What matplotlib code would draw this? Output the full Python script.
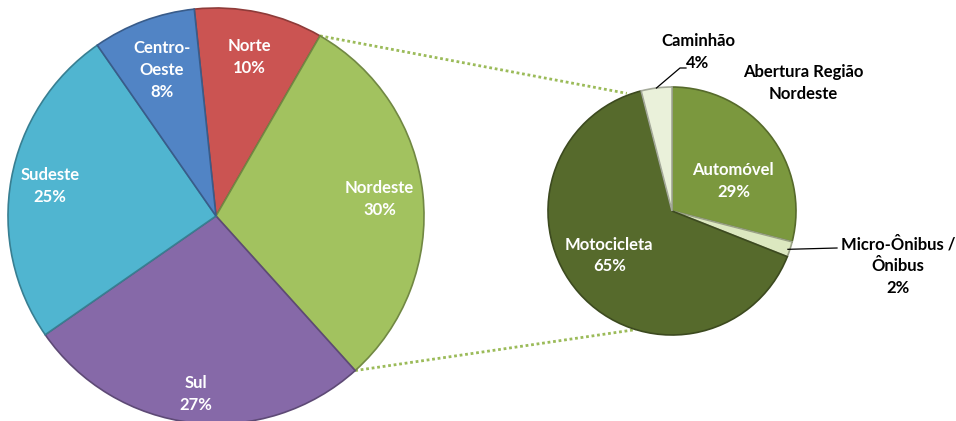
import numpy as np
import matplotlib
matplotlib.use("Agg")
import matplotlib.pyplot as plt

# ---- data ----
regions = ["Norte", "Nordeste", "Sul", "Sudeste", "Centro-\nOeste"]
region_pct = [10, 30, 27, 25, 8]
vehicles = ["Automóvel", "Micro-Ônibus /\nÔnibus", "Motocicleta", "Caminhão"]
vehicle_pct = [29, 2, 65, 4]
detail_title = "Abertura Região\nNordeste"

# ---- styles ----
region_colors = ["#CB5452", "#A2C25F", "#8669A8", "#50B5D0", "#5184C5"]
vehicle_colors = ["#7B983E", "#DCE8C0", "#566A2C", "#EAF1DA"]
FONT = ["Lato", "DejaVu Sans"]
FS = 12
LS = 1.45
W, H = 956, 421

fig = plt.figure(figsize=(W / 100, H / 100), dpi=100)
ax = fig.add_axes([0, 0, 1, 1])

def darker(c, f=0.75):
    r, g, b = matplotlib.colors.to_rgb(c)
    return (r * f, g * f, b * f)

# left pie
c1 = (216, H - 216)
R1 = 208
w1, _ = ax.pie(region_pct, colors=region_colors, startangle=96, counterclock=False,
               center=c1, radius=R1, frame=True,
               wedgeprops=dict(linewidth=1.2))
for w, col in zip(w1, region_colors):
    w.set_edgecolor(darker(col, 0.7))

# right pie
c2 = (672, H - 211)
R2 = 124
w2, _ = ax.pie(vehicle_pct, colors=vehicle_colors, startangle=90, counterclock=False,
               center=c2, radius=R2, frame=True,
               wedgeprops=dict(linewidth=1.2))
for w, col in zip(w2, vehicle_colors):
    w.set_edgecolor(darker(col, 0.7))

ax.set_xlim(0, W)
ax.set_ylim(0, H)
ax.set_aspect("equal")
ax.axis("off")

def polar(c, r, ang):
    a = np.deg2rad(ang)
    return (c[0] + r * np.cos(a), c[1] + r * np.sin(a))

# region labels
region_r = [0.78, 0.79, 0.86, 0.81, 0.75]
for w, name, p, fr in zip(w1, regions, region_pct, region_r):
    mid = (w.theta1 + w.theta2) / 2
    x, y = polar(c1, R1 * fr, mid)
    ax.text(x, y, f"{name}\n{p}%", ha="center", va="center", color="white",
            fontsize=FS, fontweight="bold", family=FONT, linespacing=LS)

# vehicle labels inside
inside = {0: (0.55, -12), 2: (0.62, -6)}
for i, (fr, shift) in inside.items():
    w = w2[i]
    mid = (w.theta1 + w.theta2) / 2
    x, y = polar(c2, R2 * fr, mid + shift)
    ax.text(x, y, f"{vehicles[i]}\n{vehicle_pct[i]}%", ha="center", va="center",
            color="white", fontsize=FS, fontweight="bold", family=FONT, linespacing=LS)

# Caminhão outside label with leader
w = w2[3]
mid = (w.theta1 + w.theta2) / 2
p0 = polar(c2, R2, mid)
ax.plot([p0[0], 680, 686], [p0[1], H - 68, H - 68], color="black", lw=0.9)
ax.text(698, H - 52, f"{vehicles[3]}\n{vehicle_pct[3]}%", ha="center", va="center",
        color="black", fontsize=FS, fontweight="bold", family=FONT, linespacing=LS)

# Micro-Ônibus outside label with leader
w = w2[1]
mid = (w.theta1 + w.theta2) / 2
p1 = polar(c2, R2, mid)
ax.plot([p1[0] - 2, 837], [p1[1], H - 248], color="black", lw=0.9)
ax.text(898, H - 266, f"{vehicles[1]}\n{vehicle_pct[1]}%", ha="center", va="center",
        color="black", fontsize=FS, fontweight="bold", family=FONT, linespacing=LS)

# detail title
ax.text(803, H - 83, detail_title, ha="center", va="center", color="black",
        fontsize=FS, fontweight="bold", family=FONT, linespacing=LS)

# connector lines (from Nordeste wedge edges to the secondary pie)
nord = w1[1]
a_top = polar(c1, R1, nord.theta2)
a_bot = polar(c1, R1, nord.theta1)
b_top = polar(c2, R2 + 2, 111)
b_bot = polar(c2, R2, -107)
for a, b in [(a_top, b_top), (a_bot, b_bot)]:
    ax.plot([a[0], b[0]], [a[1], b[1]], color="#9BBB59", lw=2, ls=(0, (1, 1)), zorder=0)

fig.savefig("out.png", dpi=100)
